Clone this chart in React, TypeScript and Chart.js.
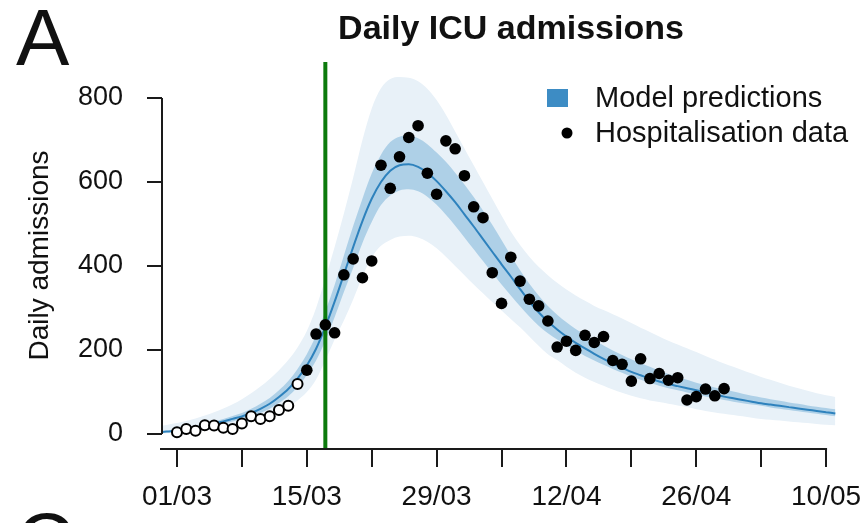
import React, { useEffect, useRef } from 'react';
import { Chart, registerables } from 'chart.js';

Chart.register(...registerables);

const FONT = '"Liberation Sans", Arial, Helvetica, sans-serif';

// Model output, one value per day, day 0 = 01/03
const MODEL_START_DAY = -2;
const MODEL_MEDIAN = [
  4, 6, 8, 11, 15, 20, 25, 30, 36, 42, 50, 60, 72, 88, 107, 132, 163, 203, 255, 315,
  380, 445, 507, 560, 600, 627, 640, 642, 636, 622, 602, 578, 552, 523, 494, 464, 434, 404, 375, 345,
  316, 290, 268, 249, 232, 217, 204, 191, 179, 168, 158, 148, 140, 132, 125, 119, 114, 109, 104, 99,
  94, 89, 85, 81, 77, 73, 70, 67, 64, 61, 58, 55, 52, 49,
];
const MODEL_INNER_UPPER = [
  6, 8, 10, 14, 18, 24, 30, 36, 43, 50, 60, 72, 86, 104, 126, 155, 190, 235, 292, 355,
  425, 495, 560, 620, 665, 695, 708, 710, 704, 690, 670, 648, 622, 594, 564, 532, 498, 462, 425, 390,
  358, 330, 305, 284, 266, 250, 236, 223, 211, 199, 188, 178, 169, 160, 151, 143, 136, 129, 122, 116,
  111, 106, 101, 96, 91, 87, 83, 79, 75, 72, 68, 65, 62, 59,
];
const MODEL_INNER_LOWER = [
  3, 4, 6, 8, 12, 16, 20, 25, 30, 35, 42, 50, 60, 74, 90, 112, 140, 175, 222, 278,
  338, 395, 455, 505, 545, 568, 580, 583, 578, 565, 546, 522, 496, 468, 440, 412, 384, 356, 330, 304,
  280, 258, 240, 225, 211, 198, 186, 175, 165, 155, 146, 137, 129, 122, 115, 109, 104, 99, 94, 89,
  85, 81, 77, 73, 70, 67, 63, 60, 57, 54, 51, 48, 45, 42,
];
const MODEL_OUTER_UPPER = [
  18, 22, 26, 31, 37, 44, 52, 61, 71, 83, 97, 113, 131, 152, 176, 206, 245, 300, 370, 445,
  525, 610, 700, 775, 823, 845, 850, 848, 840, 822, 795, 760, 720, 680, 640, 600, 560, 520, 482, 450,
  422, 398, 378, 360, 344, 330, 317, 305, 295, 285, 275, 264, 253, 243, 232, 222, 213, 204, 195, 186,
  177, 168, 160, 152, 144, 136, 129, 122, 115, 109, 103, 97, 92, 88,
];
const MODEL_OUTER_LOWER = [
  1, 2, 3, 5, 7, 9, 12, 15, 19, 23, 28, 34, 42, 52, 64, 80, 100, 130, 175, 225,
  270, 320, 375, 420, 448, 462, 470, 472, 468, 458, 442, 422, 400, 378, 356, 335, 314, 294, 274, 254,
  232, 210, 190, 176, 160, 146, 134, 124, 115, 106, 98, 91, 85, 80, 76, 72, 68, 64, 59, 55,
  51, 48, 45, 42, 39, 36, 34, 32, 30, 28, 26, 24, 22, 21,
];

// Observed data
const EARLY_START_DAY = 0;
const EARLY_DATA = [4, 12, 8, 21, 20, 15, 12, 25, 42, 36, 42, 57, 67, 119];
const HOSP_START_DAY = 14;
const HOSP_DATA = [
  152, 238, 260, 241, 379, 417, 372, 412, 640, 585, 660, 706, 734, 621, 571, 698,
  679, 615, 541, 515, 384, 311, 421, 364, 321, 305, 269, 207, 221, 199, 235, 218,
  232, 175, 166, 126, 179, 132, 144, 128, 134, 81, 89, 107, 91, 108,
];

const INTERVENTION_DAY = 16;

const X_TICK_DAYS = [0, 7, 14, 21, 28, 35, 42, 49, 56, 63, 70];
const X_TICK_LABELS = ['01/03', '', '15/03', '', '29/03', '', '12/04', '', '26/04', '', '10/05'];
const Y_TICKS = [0, 200, 400, 600, 800];

const X_MIN = -1.615;
const X_MAX = 73.55;
const Y_MIN = -35.7;
const Y_MAX = 885.7;

const OUTER_COLOR = '#e8f1f8';
const INNER_COLOR = '#aed0e7';
const LINE_COLOR = '#2e82bd';
const LEGEND_COLOR = '#3d8cc4';
const GREEN = '#0c7a0c';
const AXIS = '#1a1a1a';

const toPoints = (arr: number[], start: number) => arr.map((v, i) => ({ x: start + i, y: v }));

export default function App() {
  const ref = useRef<HTMLCanvasElement>(null);

  useEffect(() => {
    if (!ref.current) return;

    const decor = {
      id: 'decor',
      afterDatasetDraw(chart: any, args: any) {
        if (args.index !== 4) return;
        const { ctx, chartArea, scales } = chart;
        const x = scales.x.getPixelForValue(INTERVENTION_DAY);
        ctx.save();
        ctx.strokeStyle = GREEN;
        ctx.lineWidth = 4;
        ctx.beginPath();
        ctx.moveTo(x, chartArea.top);
        ctx.lineTo(x, chartArea.bottom);
        ctx.stroke();
        ctx.restore();
      },
      afterDraw(chart: any) {
        const { ctx, chartArea, scales } = chart;
        ctx.save();
        // axis lines
        ctx.strokeStyle = AXIS;
        ctx.lineWidth = 2;
        ctx.beginPath();
        ctx.moveTo(chartArea.left, scales.y.getPixelForValue(Y_TICKS[0]));
        ctx.lineTo(chartArea.left, scales.y.getPixelForValue(Y_TICKS[Y_TICKS.length - 1]));
        ctx.moveTo(chartArea.left - 2, chartArea.bottom);
        ctx.lineTo(scales.x.getPixelForValue(X_TICK_DAYS[X_TICK_DAYS.length - 1]) + 1, chartArea.bottom);
        ctx.stroke();

        // title
        ctx.fillStyle = '#111';
        ctx.textAlign = 'center';
        ctx.textBaseline = 'alphabetic';
        ctx.font = `bold 34px ${FONT}`;
        ctx.fillText('Daily ICU admissions', 511, 39);

        // panel letters
        ctx.textAlign = 'left';
        ctx.font = `80px ${FONT}`;
        ctx.fillText('A', 16, 65);
        ctx.fillText('C', 16, 569);

        // legend
        ctx.fillStyle = LEGEND_COLOR;
        ctx.fillRect(547, 89, 21, 18);
        ctx.fillStyle = '#000';
        ctx.beginPath();
        ctx.arc(567, 133, 5.5, 0, Math.PI * 2);
        ctx.fill();
        ctx.fillStyle = '#111';
        ctx.font = `29px ${FONT}`;
        ctx.textBaseline = 'middle';
        ctx.fillText('Model predictions', 595, 99);
        ctx.fillText('Hospitalisation data', 595, 134);
        ctx.restore();
      },
    };

    const chart = new Chart(ref.current, {
      type: 'line',
      data: {
        datasets: [
          {
            label: 'outerUpper',
            data: toPoints(MODEL_OUTER_UPPER, MODEL_START_DAY),
            borderWidth: 0,
            pointRadius: 0,
            fill: 1,
            backgroundColor: OUTER_COLOR,
            cubicInterpolationMode: 'monotone',
            order: 4,
          },
          {
            label: 'outerLower',
            data: toPoints(MODEL_OUTER_LOWER, MODEL_START_DAY),
            borderWidth: 0,
            pointRadius: 0,
            fill: false,
            cubicInterpolationMode: 'monotone',
            order: 4,
          },
          {
            label: 'innerUpper',
            data: toPoints(MODEL_INNER_UPPER, MODEL_START_DAY),
            borderWidth: 0,
            pointRadius: 0,
            fill: 3,
            backgroundColor: INNER_COLOR,
            cubicInterpolationMode: 'monotone',
            order: 3,
          },
          {
            label: 'innerLower',
            data: toPoints(MODEL_INNER_LOWER, MODEL_START_DAY),
            borderWidth: 0,
            pointRadius: 0,
            fill: false,
            cubicInterpolationMode: 'monotone',
            order: 3,
          },
          {
            label: 'Model predictions',
            data: toPoints(MODEL_MEDIAN, MODEL_START_DAY),
            borderColor: LINE_COLOR,
            borderWidth: 2,
            pointRadius: 0,
            fill: false,
            cubicInterpolationMode: 'monotone',
            order: 2,
          },
          {
            label: 'early',
            data: toPoints(EARLY_DATA, EARLY_START_DAY),
            showLine: false,
            pointRadius: 5,
            pointBackgroundColor: '#ffffff',
            pointBorderColor: '#000000',
            pointBorderWidth: 2,
            order: 1,
          },
          {
            label: 'Hospitalisation data',
            data: toPoints(HOSP_DATA, HOSP_START_DAY),
            showLine: false,
            pointRadius: 5.8,
            pointBackgroundColor: '#000000',
            pointBorderWidth: 0,
            order: 0,
          },
        ],
      },
      options: {
        animation: false,
        responsive: false,
        events: [],
        layout: { padding: { top: 62, right: 6, left: 0, bottom: 0 } },
        plugins: {
          legend: { display: false },
          tooltip: { enabled: false },
          title: { display: false },
        },
        scales: {
          x: {
            type: 'linear',
            min: X_MIN,
            max: X_MAX,
            afterFit: (s: any) => {
              s.height = 74;
              s.paddingLeft = 0;
              s.paddingRight = 0;
            },
            afterBuildTicks: (s: any) => {
              s.ticks = X_TICK_DAYS.map((v) => ({ value: v }));
            },
            grid: {
              drawOnChartArea: false,
              drawTicks: true,
              tickLength: 18,
              color: AXIS,
              lineWidth: 2,
            },
            border: { display: false },
            ticks: {
              autoSkip: false,
              maxRotation: 0,
              padding: 13,
              color: '#111',
              font: { family: FONT, size: 28 },
              callback: (_v: any, i: number) => X_TICK_LABELS[i],
            },
          },
          y: {
            type: 'linear',
            min: Y_MIN,
            max: Y_MAX,
            afterFit: (s: any) => {
              s.width = 162;
              s.paddingTop = 0;
              s.paddingBottom = 0;
            },
            afterBuildTicks: (s: any) => {
              s.ticks = Y_TICKS.map((v) => ({ value: v }));
            },
            grid: {
              drawOnChartArea: false,
              drawTicks: true,
              tickLength: 15,
              color: AXIS,
              lineWidth: 2,
            },
            border: { display: false },
            ticks: {
              padding: 24,
              color: '#111',
              font: { family: FONT, size: 27 },
              callback: (v: any) => String(v),
            },
            title: {
              display: true,
              text: 'Daily admissions',
              color: '#111',
              font: { family: FONT, size: 28 },
              padding: { top: 23, bottom: 0 },
            },
          },
        },
      },
      plugins: [decor],
    } as any);

    return () => chart.destroy();
  }, []);

  return (
    <div style={{ position: 'fixed', left: 0, top: 0, width: 866, height: 523, background: '#fff' }}>
      <canvas ref={ref} width={866} height={523} style={{ display: 'block' }} />
    </div>
  );
}
